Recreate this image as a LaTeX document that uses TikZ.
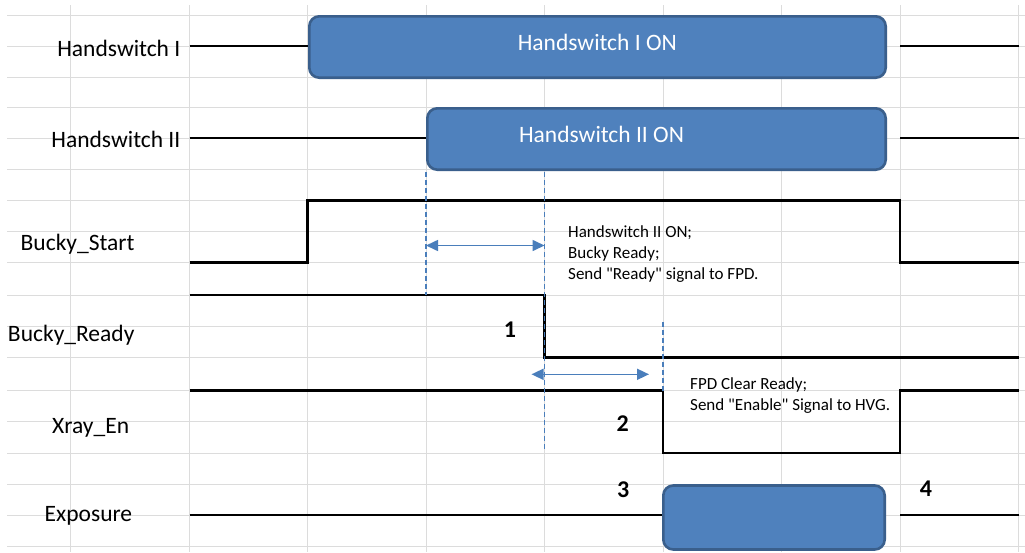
\documentclass[tikz,border=0pt]{standalone}
\usepackage{fontspec}
\setmainfont{Carlito}[Ligatures=TeXOff]
\usetikzlibrary{arrows.meta}
\definecolor{boxfill}{HTML}{4F81BD}
\definecolor{boxdraw}{HTML}{3A5F8C}
\definecolor{dashblue}{HTML}{4A7EBB}
\definecolor{gridgray}{HTML}{DCDCDC}
\begin{document}
\begin{tikzpicture}[x=1pt,y=-1pt,
  gridline/.style={draw=gridgray, line width=1pt},
  sig/.style={draw=black, line width=2.4pt, line join=miter},
  onbox/.style={rectangle, rounded corners=10pt, fill=boxfill, draw=boxdraw, line width=2.6pt, inner sep=0pt},
  ontext/.style={text=white, font=\fontsize{23.5}{28}\selectfont, inner sep=0pt, anchor=base},
  lbl/.style={font=\fontsize{23.5}{28}\selectfont, inner sep=0pt},
  note/.style={font=\fontsize{17}{21}\selectfont, align=left, inner sep=0pt, anchor=base west},
  num/.style={font=\bfseries\fontsize{24}{28}\selectfont, inner sep=0pt, anchor=base},
  guide/.style={draw=dashblue, line width=1.3pt, dash pattern=on 5pt off 3pt},
  span/.style={draw=dashblue, line width=1.6pt, {Triangle[width=11pt,length=12pt]}-{Triangle[width=11pt,length=12pt]}}
]
\useasboundingbox[fill=white] (0,0) rectangle (1025,552);
% grid
\foreach \y in {15,46,77,107,138,169,200.5,231.5,262.5,295,326.5,357.5,390.5,421.5,453,484,515,546.5}
  \draw[gridline] (7,\y) -- (1025,\y);
\foreach \x in {70.5,189.5,307.5,426,544.5,663,781.5,900,1018.5}
  \draw[gridline] (\x,5) -- (\x,552);

% labels
\node[lbl, anchor=base east] (lh1) at (180.5,56) {Handswitch I};
\node[lbl, anchor=base east] (lh2) at (180.5,147.3) {Handswitch II};
\node[lbl, anchor=base west] (lbs) at (20.5,250.7) {Bucky\_Start};
\node[lbl, anchor=base west] (lbr) at (7.8,341.3) {Bucky\_Ready};
\node[lbl, anchor=base west] (lxe) at (52,433.3) {Xray\_En};
\node[lbl, anchor=base west] (lex) at (44.5,521.7) {Exposure};

% boxes
\node[onbox, minimum width=576.4pt, minimum height=61.4pt] (hs1) at (597.5,47) {};
\node[ontext] (ths1) at (597.3,50) {Handswitch I ON};
\node[onbox, minimum width=458.4pt, minimum height=61.4pt] (hs2) at (656.5,139) {};
\node[ontext] (ths2) at (601.5,142) {Handswitch II ON};
\node[onbox, minimum width=221.4pt, minimum height=64pt] (exb) at (774,517.5) {};

% signal coordinates
\coordinate (h1a) at (189.5,46);   \coordinate (h1b) at (900,46);   \coordinate (h1c) at (1018.5,46);
\coordinate (h2a) at (189.5,138);  \coordinate (h2b) at (900,138);  \coordinate (h2c) at (1018.5,138);
\coordinate (bsa) at (189.5,262.5); \coordinate (bsb) at (307.5,200.5); \coordinate (bsc) at (900,262.5); \coordinate (bsd) at (1018.5,262.5);
\coordinate (bra) at (189.5,295);  \coordinate (brb) at (544.5,357.5); \coordinate (brc) at (1018.5,357.5);
\coordinate (xea) at (189.5,390.5); \coordinate (xeb) at (663,453); \coordinate (xec) at (900,390.5); \coordinate (xed) at (1018.5,390.5);
\coordinate (exa) at (189.5,515);  \coordinate (exc) at (900,515);  \coordinate (exd) at (1018.5,515);

% signals
\draw[sig] (h1a) -- (h1a -| hs1.west);
\draw[sig] (h1b) -- (h1c);
\draw[sig] (h2a) -- (h2a -| hs2.west);
\draw[sig] (h2b) -- (h2c);
\draw[sig] (bsa) -| (bsb) -| (bsc) -- (bsd);
\draw[sig] (bra) -| (brb) -- (brc);
\draw[sig] (xea) -| (xeb) -| (xec) -- (xed);
\draw[sig] (exa) -- (exa -| exb.west);
\draw[sig] (exc) -- (exd);

% guides
\coordinate (g1t) at (426,172);   \coordinate (g1b) at (426,295);
\coordinate (g2t) at (544.5,172); \coordinate (g2b) at (544.5,451);
\coordinate (g3t) at (663,322);   \coordinate (g3b) at (663,390.5);
\draw[guide] (g1t) -- (g1b);
\draw[guide] (g2t) -- (g2b);
\draw[guide] (g3t) -- (g3b);

% spans
\coordinate (s1a) at (426,245.5); \coordinate (s1b) at (544.5,245.5);
\coordinate (s2a) at (531.5,374.3); \coordinate (s2b) at (649,374.3);
\draw[span] (s1a) -- (s1b);
\draw[span] (s2a) -- (s2b);

% notes (anchored at the baseline of the last line)
\node[note] (n1) at (568,279) {Handswitch II ON;\\Bucky Ready;\\Send "Ready" signal to FPD.};
\node[note] (n2) at (690,410.7) {FPD Clear Ready;\\Send "Enable" Signal to HVG.};

% numbers
\node[num] (k1) at (510,337.3) {1};
\node[num] (k2) at (622.7,431.7) {2};
\node[num] (k3) at (623.3,497.7) {3};
\node[num] (k4) at (926,496.7) {4};
\end{tikzpicture}
\end{document}
